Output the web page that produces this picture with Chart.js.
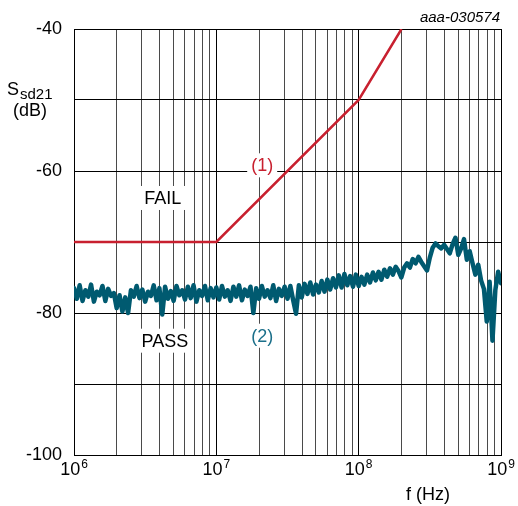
<!DOCTYPE html>
<html>
<head>
<meta charset="utf-8">
<script src="https://cdn.jsdelivr.net/npm/chart.js@4/dist/chart.umd.min.js"></script>
<style>
  html, body { margin: 0; padding: 0; background: #fff; }
</style>
</head>
<body>
<canvas id="myChart" width="518" height="506"></canvas>
<script>
// limit line (1)
const limitFreq = [1e6, 1e7, 1e8, 2e8];
const limitDb = [-70, -70, -50, -40];

const mantissa = [1.000, 1.047, 1.096, 1.148, 1.202, 1.259, 1.318, 1.380, 1.445, 1.514,
  1.585, 1.660, 1.738, 1.820, 1.905, 1.995, 2.089, 2.188, 2.291, 2.399,
  2.512, 2.630, 2.754, 2.884, 3.020, 3.162, 3.311, 3.467, 3.631, 3.802,
  3.981, 4.169, 4.365, 4.571, 4.786, 5.012, 5.248, 5.495, 5.754, 6.026,
  6.310, 6.607, 6.918, 7.244, 7.586, 7.943, 8.318, 8.710, 9.120, 9.550];
const decades = [1e6, 1e7, 1e8];
const ssdDecade1 = [-76.5, -78.0, -76.1, -78.3, -76.8, -77.7, -76.0, -78.4, -77.0, -77.5,
  -76.2, -78.3, -76.6, -77.6, -77.2, -79.3, -77.5, -79.8, -77.8, -80.0,
  -76.8, -77.7, -76.2, -77.9, -76.7, -78.4, -77.0, -77.6, -76.1, -78.2,
  -76.5, -80.2, -76.3, -78.0, -76.9, -78.3, -76.2, -77.5, -76.8, -78.1,
  -76.3, -77.9, -76.1, -78.4, -76.8, -77.6, -76.2, -78.2, -76.5, -77.8];
const ssdDecade2 = [-76.4, -78.1, -76.2, -77.7, -76.8, -78.3, -76.3, -77.7, -76.1, -78.2,
  -76.7, -77.6, -76.3, -80.0, -76.5, -78.0, -76.2, -77.7, -76.8, -77.9,
  -76.1, -78.3, -76.6, -77.6, -76.3, -78.0, -76.2, -78.2, -80.1, -76.1,
  -77.8, -75.9, -77.3, -75.7, -77.4, -76.0, -77.1, -75.5, -77.0, -75.3,
  -76.7, -75.1, -76.4, -74.7, -76.4, -74.5, -76.1, -74.8, -76.3, -74.6];
const ssdDecade3 = [-76.2, -74.9, -76.0, -74.6, -75.7, -74.3, -75.4, -74.2, -75.3, -73.9,
  -74.9, -73.7, -74.6, -73.5, -74.1, -75.0, -73.6, -73.0, -73.6, -72.4,
  -73.0, -72.1, -72.8, -73.4, -74.0, -72.2, -70.8, -70.2, -70.6, -70.9,
  -70.4, -71.0, -71.6, -70.3, -69.4, -71.8, -70.9, -69.6, -72.5, -71.3,
  -73.0, -74.6, -73.2, -75.4, -76.6, -81.2, -75.6, -83.9, -76.8, -74.2];
const ssdEnd = -75.8;

const gridMantissa = [1, 2, 3, 4, 5, 6, 7, 8, 9];
const xDecadeExp = [6, 7, 8, 9];
const yLabels = [-40, -60, -80, -100];

const measured = [];
[ssdDecade1, ssdDecade2, ssdDecade3].forEach((vals, d) => {
  vals.forEach((v, i) => measured.push({x: mantissa[i] * decades[d], y: v}));
});
measured.push({x: 1e9, y: ssdEnd});

const limit = limitFreq.map((f, i) => ({x: f, y: limitDb[i]}));

const RED = '#c8202f';
const TEAL = '#005a70';
const FONT = '"Liberation Sans", Arial, sans-serif';

function isDecade(v) {
  const l = Math.log10(v);
  return Math.abs(l - Math.round(l)) < 1e-6;
}

function boxedText(ctx, text, x, y, color) {
  ctx.font = '18px ' + FONT;
  const w = ctx.measureText(text).width;
  ctx.fillStyle = '#fff';
  ctx.fillRect(x - w / 2 - 4, y - 12, w + 8, 24);
  ctx.fillStyle = color;
  ctx.textAlign = 'center';
  ctx.textBaseline = 'middle';
  ctx.fillText(text, x, y + 1);
}

const labelsPlugin = {
  id: 'labels',
  afterDatasetsDraw(chart) {
    const {ctx, scales: {x, y}} = chart;
    ctx.save();
    // annotations over the plot
    boxedText(ctx, 'FAIL', x.getPixelForValue(4.2e6), y.getPixelForValue(-63.8), '#000');
    boxedText(ctx, 'PASS', x.getPixelForValue(4.35e6), y.getPixelForValue(-83.9), '#000');
    boxedText(ctx, '(1)', x.getPixelForValue(2.1e7), y.getPixelForValue(-59.2), RED);
    boxedText(ctx, '(2)', x.getPixelForValue(2.1e7), y.getPixelForValue(-83.2), '#1b6f8a');

    // x tick labels 10^n
    ctx.fillStyle = '#000';
    ctx.textBaseline = 'alphabetic';
    xDecadeExp.forEach(e => {
      const px = x.getPixelForValue(Math.pow(10, e));
      ctx.font = '18px ' + FONT;
      const wb = ctx.measureText('10').width;
      ctx.font = '12px ' + FONT;
      const we = ctx.measureText(String(e)).width;
      const left = px - (wb + we + 1) / 2;
      ctx.textAlign = 'left';
      ctx.font = '18px ' + FONT;
      ctx.fillText('10', left, 475);
      ctx.font = '12px ' + FONT;
      ctx.fillText(String(e), left + wb + 1, 468);
    });

    // axis titles
    ctx.font = '18px ' + FONT;
    ctx.textAlign = 'left';
    ctx.fillText('f (Hz)', 406, 500);
    ctx.fillText('S', 7, 95);
    ctx.font = '15px ' + FONT;
    ctx.fillText('sd21', 20, 99);
    ctx.font = '18px ' + FONT;
    ctx.fillText('(dB)', 13, 116);

    ctx.font = 'italic 15px ' + FONT;
    ctx.textAlign = 'right';
    ctx.fillText('aaa-030574', 500, 22);
    ctx.restore();
  }
};

const config = {
  type: 'line',
  data: {
    datasets: [
      {
        label: 'limit',
        data: limit,
        borderColor: RED,
        borderWidth: 2.5,
        pointRadius: 0,
        tension: 0
      },
      {
        label: 'Ssd21',
        data: measured,
        borderColor: TEAL,
        borderWidth: 4.5,
        borderJoinStyle: 'round',
        borderCapStyle: 'round',
        pointRadius: 0,
        tension: 0
      }
    ]
  },
  options: {
    responsive: false,
    animation: false,
    layout: {padding: {top: 29, right: 17, left: 0, bottom: 0}},
    plugins: {
      legend: {display: false},
      tooltip: {enabled: false}
    },
    scales: {
      x: {
        type: 'logarithmic',
        min: 1e6,
        max: 1e9,
        afterBuildTicks(scale) {
          const ticks = [];
          decades.forEach(d => gridMantissa.forEach(m => ticks.push({value: m * d})));
          ticks.push({value: 1e9});
          scale.ticks = ticks;
        },
        afterFit(scale) { scale.height = 51; },
        ticks: {display: false, autoSkip: false},
        grid: {
          drawTicks: false,
          color: ctx => isDecade(ctx.tick.value) ? '#000' : '#4a4a4a',
          lineWidth: 1
        },
        border: {color: '#000', width: 1}
      },
      y: {
        min: -100,
        max: -40,
        afterFit(scale) { scale.width = 74; },
        ticks: {
          stepSize: 10,
          padding: 12,
          color: '#000',
          font: {family: FONT, size: 18},
          callback: v => yLabels.includes(v) ? String(v) : ''
        },
        grid: {drawTicks: false, color: '#000', lineWidth: 1},
        border: {color: '#000', width: 1}
      }
    }
  },
  plugins: [labelsPlugin]
};

const ctx = document.getElementById('myChart').getContext('2d');
const chart = new Chart(ctx, config);
</script>
</body>
</html>
